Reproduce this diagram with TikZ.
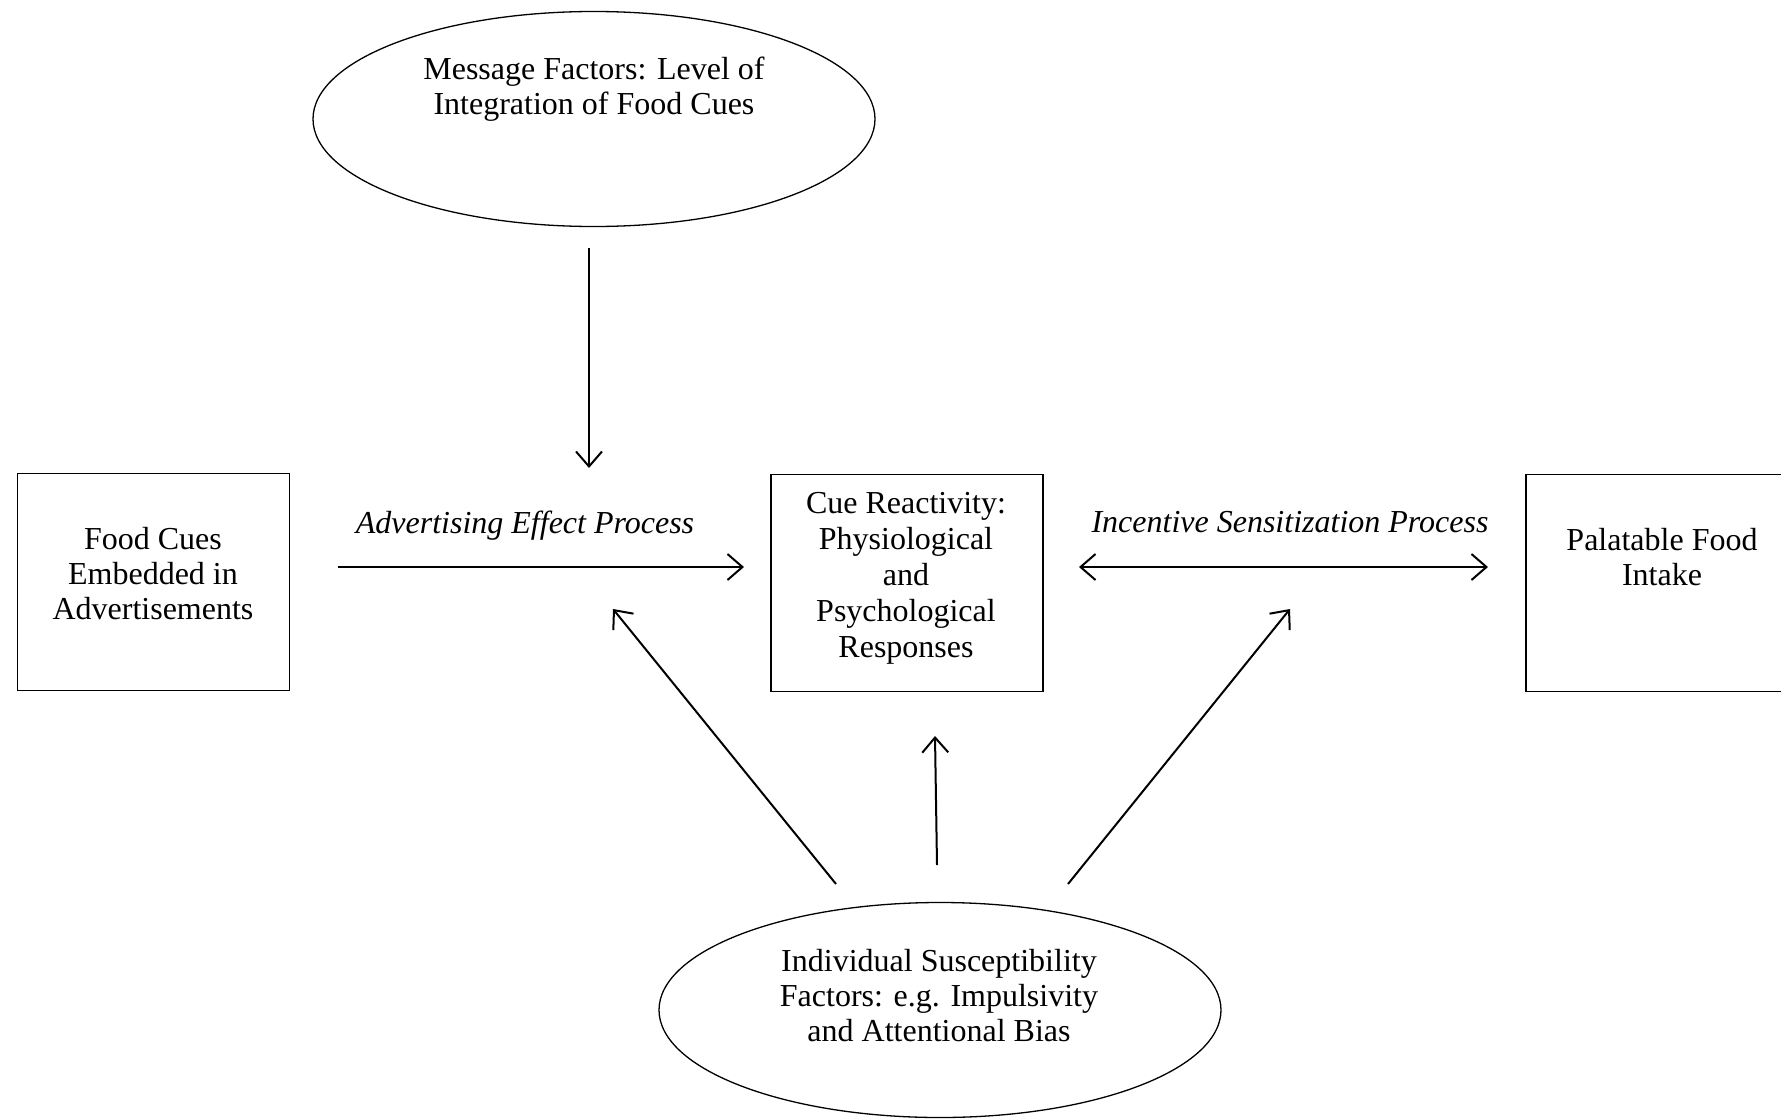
\documentclass[tikz,border=0pt]{standalone}
\usepackage{fontspec}
\setmainfont{Liberation Serif}
\usetikzlibrary{shapes.geometric,arrows.meta}

\tikzset{
  >={Straight Barb[length=15pt,width=26pt]},
  factor/.style={draw, ellipse, line width=1.3pt, inner sep=0pt, minimum width=562pt, minimum height=215pt},
  stage/.style={draw, rectangle, line width=1.7pt, inner sep=0pt, minimum width=272pt, minimum height=217pt},
  txt/.style={align=center, font=\fontsize{32}{35}\selectfont},
  process/.style={font=\fontsize{32}{35}\selectfont\itshape},
  link/.style={line width=2pt},
}

\begin{document}
\begin{tikzpicture}[x=1pt,y=-1pt]
    \useasboundingbox (0,0) rectangle (1781,1119);
    % shapes
    \node[factor] (message) at (594,119) {};
    \node[factor] (individual) at (940,1010) {};
    \node[stage] (foodcues) at (153.5,582) {};
    \node[stage] (reactivity) at (907,583) {};
    \node[stage] (intake) at (1662,583) {};
    % texts
    \node[txt] (messagetxt) at (594,89.5) {Message Factors: Level of\\Integration of Food Cues};
    \node[txt] (individualtxt) at (939,996) {Individual Susceptibility\\Factors: e.g. Impulsivity\\and Attentional Bias};
    \node[txt] (foodcuestxt) at (153,574) {Food Cues\\Embedded in\\Advertisements};
    \node[txt, font=\fontsize{32}{36}\selectfont] (reactivitytxt) at (906,578.5) {Cue Reactivity:\\Physiological\\and\\Psychological\\Responses};
    \node[txt] (intaketxt) at (1662,557) {Palatable Food\\Intake};
    \node[process] (adlabel) at (525,525.5) {Advertising Effect Process};
    \node[process] (islabel) at (1290,522) {Incentive Sensitization Process};
    % free ends of the arrows
    \coordinate (mtop) at (589,248);
    \coordinate (mbot) at (589,468);
    \coordinate (adstart) at (338,567);
    \coordinate (adend) at (744,567);
    \coordinate (isstart) at (1079,567);
    \coordinate (isend) at (1488,567);
    \coordinate (leftfoot) at (836,884);
    \coordinate (lefttip) at (613,609);
    \coordinate (midfoot) at (937,865);
    \coordinate (midtip) at (935,736);
    \coordinate (rightfoot) at (1068,884);
    \coordinate (righttip) at (1290,609);
    % arrows
    \draw[link,->] (mtop) -- (mbot);
    \draw[link,->] (adstart) -- (adend);
    \draw[link,<->] (isstart) -- (isend);
    \foreach \a/\b in {leftfoot/lefttip, midfoot/midtip, rightfoot/righttip}
        \draw[link,->] (\a) -- (\b);
\end{tikzpicture}
\end{document}
